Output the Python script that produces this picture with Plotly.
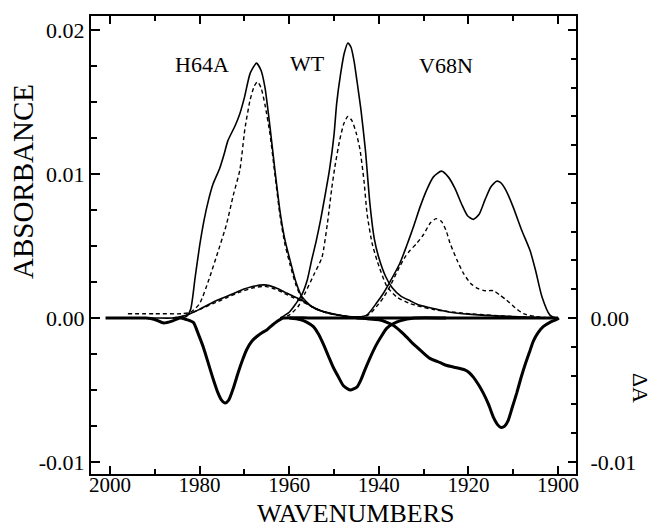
import plotly.graph_objects as go

# ---------------- data ----------------
h64a_solid_wn = [1996, 1990, 1986, 1983, 1982, 1981, 1980, 1979, 1978, 1977, 1975.5, 1974.5, 1973.7, 1972,
                 1971, 1970, 1968.7, 1967.3, 1966.3, 1965.4, 1964.3, 1963.2, 1962, 1961, 1959.8, 1958.5,
                 1957.2, 1955, 1953, 1951, 1947, 1940, 1920, 1900]
h64a_solid_a = [0.0, 0.0, 0.0, 0.0001, 0.0006, 0.0028, 0.0050, 0.0068, 0.0082, 0.0093, 0.0104, 0.0114, 0.0123, 0.0134,
                0.0142, 0.0153, 0.0170, 0.0177, 0.0172, 0.0160, 0.0133, 0.0103, 0.0073, 0.0055, 0.0040, 0.0025,
                0.0015, 0.0008, 0.0005, 0.00035, 0.0001, 0.0, 0.0, 0.0]

h64a_dash_wn = [1996, 1990, 1984, 1982, 1980, 1978, 1976, 1974, 1972.5, 1971, 1969.9, 1968.75, 1967.8, 1967.1,
                1966.3, 1965.4, 1964.3, 1963.2, 1962, 1961, 1959.8, 1958.5, 1957.2, 1955, 1952, 1947, 1940, 1920, 1900]
h64a_dash_a = [0.0003, 0.0003, 0.0003, 0.0004, 0.0010, 0.0026, 0.0045, 0.0065, 0.0085, 0.0103, 0.0131, 0.0151, 0.0161, 0.0164,
               0.0160, 0.0148, 0.0128, 0.0100, 0.0070, 0.0052, 0.0037, 0.0023, 0.0014, 0.0008, 0.0004, 0.0001, 0.0, 0.0, 0.0]

bump_wn = [1986, 1983, 1980, 1977, 1974, 1971, 1968, 1965.5, 1963, 1961, 1959, 1957.5, 1955, 1952, 1948, 1942, 1930]
bump_solid_a = [0.0, 0.0002, 0.0006, 0.0011, 0.0015, 0.0019, 0.0022, 0.0023, 0.0021, 0.0018, 0.0015, 0.0013,
                0.0008, 0.0004, 0.00015, 0.0, 0.0]
bump_dash_a = [0.0, 0.0002, 0.0006, 0.0010, 0.0014, 0.0018, 0.0021, 0.0022, 0.0020, 0.0017, 0.0014, 0.0012,
               0.0008, 0.0004, 0.00015, 0.0, 0.0]

wt_solid_wn = [1962, 1960, 1958.5, 1957.2, 1956, 1955, 1954, 1953, 1952, 1951, 1950, 1949.4, 1948.5, 1947.7,
               1946.9, 1946.2, 1945.5, 1944.8, 1944, 1943, 1942, 1941, 1940, 1938.5, 1937, 1935, 1933, 1931,
               1927, 1924, 1917, 1910, 1902, 1900]
wt_solid_a = [0.0, 0.0004, 0.0010, 0.0016, 0.0026, 0.0040, 0.0053, 0.0068, 0.0085, 0.0103, 0.0127, 0.0149, 0.0170, 0.0184,
              0.0191, 0.0188, 0.0178, 0.0163, 0.0145, 0.0117, 0.0080, 0.0055, 0.0042, 0.0029, 0.0021, 0.0015, 0.0012, 0.0009,
              0.0006, 0.0004, 0.0002, 0.0001, 0.0, 0.0]

wt_dash_wn = [1962, 1960, 1958, 1956.5, 1954.5, 1952.7, 1951.5, 1950.5, 1949.8, 1948.7, 1947.8, 1946.9, 1946,
              1945, 1944.2, 1943.3, 1942.6, 1941.5, 1940.4, 1938.2, 1936, 1933, 1928, 1920, 1910, 1902, 1900]
wt_dash_a = [0.0, 0.0002, 0.0008, 0.0017, 0.0030, 0.0042, 0.0065, 0.0090, 0.0105, 0.0124, 0.0135, 0.0140, 0.0137,
             0.0128, 0.0117, 0.0095, 0.0072, 0.0052, 0.0040, 0.0022, 0.00146, 0.0010, 0.0006, 0.0003, 0.0001, 0.0, 0.0]

v68n_solid_wn = [1946, 1942.7, 1940.5, 1939, 1937.7, 1935.3, 1933.8, 1932.3, 1930.8, 1929.3, 1927.8, 1926,
                 1924.5, 1923, 1921.5, 1920.2, 1918.9, 1917.6, 1916.3, 1915, 1913.7, 1912.8, 1911.5, 1910,
                 1908.1, 1906.25, 1905, 1903.6, 1901.8, 1900.5]
v68n_solid_a = [0.0, 0.0002, 0.00104, 0.0017, 0.0024, 0.0038, 0.0050, 0.0063, 0.0077, 0.0089, 0.0098, 0.0102,
                0.0098, 0.0090, 0.0079, 0.0071, 0.00685, 0.0072, 0.0082, 0.0091, 0.0095, 0.0094, 0.0088, 0.0077,
                0.0061, 0.0047, 0.0033, 0.0015, 0.0002, 0.0]

v68n_dash_wn = [1946, 1942.4, 1940.5, 1939, 1937.5, 1935.3, 1934, 1933, 1931.5, 1930, 1928.5, 1927.2, 1926,
                1925, 1924.1, 1922.5, 1921.1, 1919.5, 1918.2, 1916.5, 1914.4, 1913, 1911.5, 1909.5, 1907.7,
                1905, 1902, 1900]
v68n_dash_a = [0.0, 0.0002, 0.0008, 0.0014, 0.0022, 0.0036, 0.0043, 0.0047, 0.0052, 0.0058, 0.0066, 0.0069, 0.0067,
               0.0061, 0.0052, 0.0040, 0.0031, 0.0024, 0.0021, 0.0019, 0.0019, 0.0016, 0.00125, 0.0007, 0.0003,
               0.0001, 0.0, 0.0]

# difference spectra (ΔA, right axis)
h64a_diff_wn = [2001, 1996, 1992, 1990, 1988, 1986, 1984.4, 1983, 1981.4, 1980.3, 1979.2, 1978, 1976.9, 1975.9,
                1975.1, 1974.3, 1973.5, 1972.5, 1971.4, 1970.4, 1969.5, 1968.3, 1967.3, 1966, 1965, 1963.8,
                1962.8, 1961.3, 1955, 1940, 1920, 1900]
h64a_diff_a = [0.0, 0.0, 0.0, -0.0001, -0.00035, -0.0002, 0.0, -0.0001, -0.0003, -0.0011, -0.0020, -0.0032, -0.0043, -0.0052,
               -0.0057, -0.0059, -0.0057, -0.0049, -0.0038, -0.0029, -0.0022, -0.0016, -0.0013, -0.0010, -0.00083, -0.0005,
               -0.00026, 0.0, 0.0, 0.0, 0.0, 0.0]

wt_diff_wn = [1960, 1957.6, 1956, 1954.6, 1953.5, 1952.4, 1951.3, 1950.2, 1949, 1947.9, 1946.4, 1944.9, 1944,
              1943.1, 1942, 1940.8, 1939.5, 1938.2, 1936.8, 1935.3, 1932, 1925]
wt_diff_a = [0.0, -0.0001, -0.0003, -0.0006, -0.0011, -0.0018, -0.0026, -0.0034, -0.0041, -0.0047, -0.0050, -0.0048, -0.0043,
             -0.0036, -0.0028, -0.0020, -0.0013, -0.0007, -0.0004, -0.0002, 0.0, 0.0]

v68n_diff_wn = [1945, 1939.7, 1938.2, 1936.8, 1934.5, 1932.3, 1930.5, 1928.6, 1926.3, 1924.8, 1923.4, 1920.8, 1919.8,
                1918.9, 1917.8, 1916.7, 1915.5, 1914.4, 1913.5, 1912.7, 1911.9, 1911.1, 1910.2, 1909.2, 1908.3,
                1907.4, 1906.4, 1905.5, 1904.4, 1903.3, 1901.8, 1900.3, 1899.8]
v68n_diff_a = [0.0, -0.00014, -0.0003, -0.0005, -0.0011, -0.0018, -0.0023, -0.0028, -0.0031, -0.0033, -0.0034, -0.0036, -0.0038,
               -0.0041, -0.0046, -0.0052, -0.0060, -0.0069, -0.0074, -0.0076, -0.0075, -0.0071, -0.0062, -0.0052, -0.0042,
               -0.0033, -0.0024, -0.0016, -0.0010, -0.0006, -0.0003, -0.0001, 0.0]

sample_labels = ["H64A", "WT", "V68N"]
label_wn = [1979.5, 1956, 1925]
label_a = [0.0176, 0.0177, 0.0175]

x_major = [2000, 1980, 1960, 1940, 1920, 1900]
x_minor = [1990, 1970, 1950, 1930, 1910]
y_major = [-0.01, 0.0, 0.01, 0.02]
y_major_text = ["-0.01", "0.00", "0.01", "0.02"]
y_minor = [-0.0075, -0.005, -0.0025, 0.0025, 0.005, 0.0075, 0.0125, 0.015, 0.0175]
y2_major = [-0.01, 0.0, 0.01, 0.02]
y2_major_text = ["-0.01", "0.00", "", ""]
y2_minor = [-0.008, -0.006, -0.004, -0.002, 0.002, 0.004, 0.006, 0.008, 0.012, 0.014, 0.016, 0.018]

# ---------------- figure ----------------
FONT = "Liberation Serif"
fig = go.Figure()

def add(x, y, width, dash=None, yaxis="y"):
    fig.add_trace(go.Scatter(
        x=x, y=y, mode="lines", yaxis=yaxis, showlegend=False, hoverinfo="skip",
        line=dict(color="black", width=width, dash=dash, shape="spline", smoothing=0.6)))

THICK = 3.0
add(h64a_diff_wn, h64a_diff_a, THICK, yaxis="y2")
add(wt_diff_wn, wt_diff_a, THICK, yaxis="y2")
add(v68n_diff_wn, v68n_diff_a, THICK, yaxis="y2")

DASH = "4px,3px"
add(bump_wn, bump_dash_a, 1.4, DASH)
add(h64a_dash_wn, h64a_dash_a, 1.4, DASH)
add(wt_dash_wn, wt_dash_a, 1.4, DASH)
add(v68n_dash_wn, v68n_dash_a, 1.4, DASH)

add(bump_wn, bump_solid_a, 1.6)
add(h64a_solid_wn, h64a_solid_a, 1.6)
add(wt_solid_wn, wt_solid_a, 1.6)
add(v68n_solid_wn, v68n_solid_a, 1.6)

yr = [-0.01083, 0.02097]
tickfont = dict(family=FONT, size=22, color="black")
xtickfont = dict(family=FONT, size=21, color="black")

fig.update_layout(
    width=654, height=527,
    margin=dict(l=91, r=78, t=16, b=53),
    plot_bgcolor="white", paper_bgcolor="white",
    xaxis=dict(range=[2004.24, 1895.98], showgrid=False, zeroline=False,
               showline=True, linecolor="black", linewidth=2, mirror="ticks",
               ticks="inside", ticklen=8, tickwidth=2, tickcolor="black",
               tickvals=x_major, ticktext=[str(v) for v in x_major], tickfont=xtickfont,
               ticklabelstandoff=-9,
               minor=dict(tickvals=x_minor, ticks="inside", ticklen=5, tickwidth=2, tickcolor="black")),
    yaxis=dict(range=yr, showgrid=False, zeroline=False,
               showline=True, linecolor="black", linewidth=2, mirror=False,
               ticks="inside", ticklen=9, tickwidth=2, tickcolor="black",
               tickvals=y_major, ticktext=y_major_text, tickfont=tickfont,
               minor=dict(tickvals=y_minor, ticks="inside", ticklen=6, tickwidth=2, tickcolor="black")),
    yaxis2=dict(range=yr, overlaying="y", side="right", anchor="x", showgrid=False, zeroline=False,
                showline=True, linecolor="black", linewidth=2,
                ticks="inside", ticklen=8, tickwidth=2, tickcolor="black",
                tickvals=y2_major, ticktext=y2_major_text, tickfont=tickfont, ticklabelstandoff=8,
                minor=dict(tickvals=y2_minor, ticks="inside", ticklen=5, tickwidth=2, tickcolor="black")),
)

for t, xv, yv in zip(sample_labels, label_wn, label_a):
    fig.add_annotation(x=xv, y=yv, xref="x", yref="y", text=t, showarrow=False,
                       xanchor="center", yanchor="middle",
                       font=dict(family=FONT, size=22, color="black"))

fig.add_annotation(x=-0.1402, y=0.6376, xref="paper", yref="paper", text="ABSORBANCE", textangle=-90,
                   xanchor="center", yanchor="middle",
                   showarrow=False, font=dict(family=FONT, size=29, color="black"))
fig.add_annotation(x=0.5454, y=-0.0873, xref="paper", yref="paper", text="WAVENUMBERS",
                   xanchor="center", yanchor="middle",
                   showarrow=False, font=dict(family=FONT, size=26, color="black"))
fig.add_annotation(x=1.1320, y=0.1878, xref="paper", yref="paper", text="ΔA", textangle=90,
                   xanchor="center", yanchor="middle",
                   showarrow=False, font=dict(family=FONT, size=22, color="black"))

fig.write_html("out.html")
